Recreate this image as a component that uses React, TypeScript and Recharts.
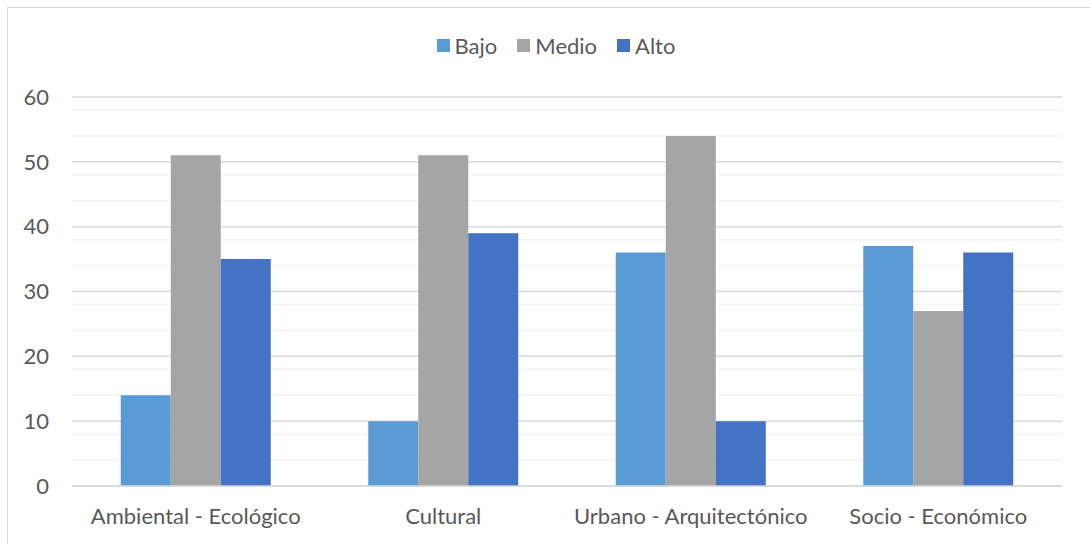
import React from 'react'
import { BarChart, Bar, XAxis, YAxis, CartesianGrid, Legend } from 'recharts'

const categories = ['Ambiental - Ecológico', 'Cultural', 'Urbano - Arquitectónico', 'Socio - Económico']
const bajo = [14, 10, 36, 37]
const medio = [51, 51, 54, 27]
const alto = [35, 39, 10, 36]

const majorTicks = [0, 10, 20, 30, 40, 50, 60]
const minorTicks = [2, 4, 6, 8, 12, 14, 16, 18, 22, 24, 26, 28, 32, 34, 36, 38, 42, 44, 46, 48, 52, 54, 56, 58]

const series = [
  { key: 'bajo', name: 'Bajo', color: '#5B9BD5' },
  { key: 'medio', name: 'Medio', color: '#A5A5A5' },
  { key: 'alto', name: 'Alto', color: '#4472C4' },
]

const data = categories.map((name, i) => ({
  name,
  bajo: bajo[i],
  medio: medio[i],
  alto: alto[i],
}))

const FONT = 'Lato, "Open Sans", sans-serif'
const TEXT = '#595959'
const FONT_SIZE = 22

function LegendRow() {
  return (
    <div style={{ display: 'flex', justifyContent: 'center', alignItems: 'center', height: 30, paddingLeft: 50, fontFamily: FONT, fontSize: FONT_SIZE, color: TEXT }}>
      {series.map((s) => (
        <div key={s.key} style={{ display: 'flex', alignItems: 'center', margin: '0 10px' }}>
          <span style={{ width: 13, height: 13, background: s.color, marginRight: 5, display: 'inline-block' }} />
          <span>{s.name}</span>
        </div>
      ))}
    </div>
  )
}

export default function App() {
  return (
    <div style={{ position: 'absolute', left: 0, top: 0, width: 1090, height: 544, overflow: 'hidden', background: '#fff' }}>
      <div style={{ position: 'absolute', left: 7, top: 7, width: 1200, height: 700, border: '1px solid #D9D9D9' }} />
      <BarChart
        width={1090}
        height={544}
        data={data}
        margin={{ top: 67, right: 28, left: 0, bottom: 0 }}
        barCategoryGap="19.7%"
        barGap={0}
        style={{ fontFamily: FONT }}
      >
        <CartesianGrid vertical={false} horizontalValues={minorTicks} stroke="#F2F2F2" strokeWidth={1.5} />
        <CartesianGrid vertical={false} horizontalValues={majorTicks} stroke="#D9D9D9" strokeWidth={1.5} />
        <XAxis
          dataKey="name"
          height={58}
          axisLine={{ stroke: '#D9D9D9', strokeWidth: 1.5 }}
          tickLine={false}
          tickSize={0}
          tickMargin={22}
          tick={{ fill: TEXT, fontSize: FONT_SIZE }}
          interval={0}
        />
        <YAxis
          domain={[0, 60]}
          ticks={majorTicks}
          width={72}
          axisLine={false}
          tickLine={false}
          tickSize={0}
          tickMargin={23}
          tick={{ fill: TEXT, fontSize: FONT_SIZE }}
        />
        <Legend verticalAlign="top" align="center" content={<LegendRow />} wrapperStyle={{ top: 30 }} />
        {series.map((s) => (
          <Bar key={s.key} dataKey={s.key} name={s.name} fill={s.color} isAnimationActive={false} />
        ))}
      </BarChart>
    </div>
  )
}
